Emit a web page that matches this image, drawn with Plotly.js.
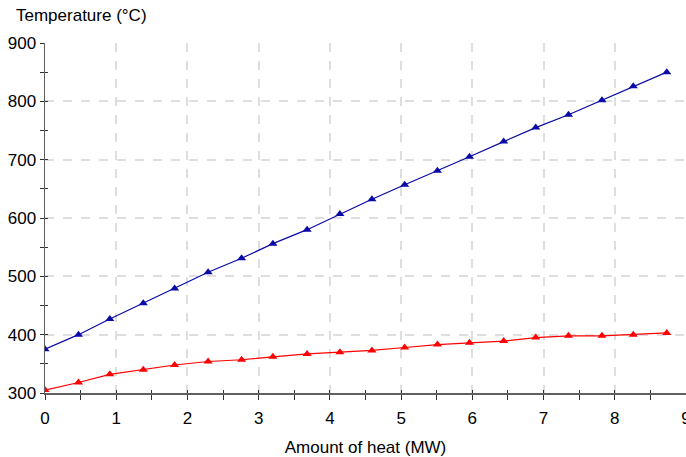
<!DOCTYPE html>
<html>
<head>
<meta charset="utf-8">
<script src="https://cdn.plot.ly/plotly-3.0.1.min.js"></script>
<style>html,body{margin:0;padding:0;background:#fff;}#chart{width:686px;height:457px;}</style>
</head>
<body>
<div id="chart"></div>
<script>
// Amount of heat (MW)
const heatMW = [0, 0.47, 0.91, 1.38, 1.82, 2.29, 2.76, 3.20, 3.68, 4.14, 4.59, 5.05, 5.51, 5.96, 6.44, 6.89, 7.35, 7.82, 8.26, 8.73];
// Temperature (°C) — upper (blue) series
const tempBlue = [375, 400, 427, 454, 479, 507, 531, 556, 580, 607, 632, 657, 681, 705, 731, 755, 777, 802, 826, 850];
// Temperature (°C) — lower (red) series
const tempRed = [305, 318, 332, 340, 348, 354, 357, 362, 367, 370, 373, 378, 383, 386, 389, 395, 398, 398, 400, 403];

const xTickVals = [0, 1, 2, 3, 4, 5, 6, 7, 8, 9];
const yTickVals = [300, 400, 500, 600, 700, 800, 900];

const FONT = 'Arial, "Liberation Sans", sans-serif';
const FS = 17;

const traces = [
  {x: heatMW, y: tempBlue, type: 'scatter', mode: 'lines+markers',
   line: {color: '#0a0aa6', width: 1.2},
   marker: {symbol: 'triangle-up', size: 8, color: '#0a0aa6'}},
  {x: heatMW, y: tempRed, type: 'scatter', mode: 'lines+markers',
   line: {color: '#ff0000', width: 1.2},
   marker: {symbol: 'triangle-up', size: 8, color: '#ff0000'}},
  // invisible trace on overlay axes so inside tick halves render
  {x: [0], y: [300], xaxis: 'x2', yaxis: 'y2', mode: 'markers', marker: {opacity: 0}, hoverinfo: 'skip'}
];

const axBase = {
  showline: true, linecolor: '#606060', linewidth: 1.5,
  tickcolor: '#333', tickwidth: 1, zeroline: false,
  ticklabeloverflow: 'allow',
  tickfont: {family: FONT, size: FS, color: '#000'}
};

const layout = {
  width: 686, height: 457,
  margin: {l: 45, r: 0, t: 43, b: 64},
  paper_bgcolor: '#fff', plot_bgcolor: '#fff',
  showlegend: false,
  font: {family: FONT, size: FS, color: '#000'},
  xaxis: Object.assign({}, axBase, {
    range: [0, 9], tickvals: xTickVals, ticks: 'outside', ticklen: 5,
    ticklabelstandoff: 4,
    minor: {dtick: 0.5, ticks: 'outside', ticklen: 5, tickcolor: '#333', showgrid: false},
    showgrid: true, gridcolor: '#dedede', gridwidth: 2, griddash: 'dash',
    title: {text: 'Amount of heat (MW)', font: {family: FONT, size: FS}, standoff: 14},
    fixedrange: true
  }),
  yaxis: Object.assign({}, axBase, {
    range: [300, 900], tickvals: yTickVals, ticks: 'outside', ticklen: 4,
    minor: {dtick: 50, ticks: 'outside', ticklen: 4, tickcolor: '#333', showgrid: false},
    showgrid: true, gridcolor: '#dedede', gridwidth: 2, griddash: 'dash',
    fixedrange: true
  }),
  xaxis2: {overlaying: 'x', range: [0, 9], tickvals: xTickVals, ticks: 'inside', ticklen: 3,
    tickcolor: '#333', showticklabels: false, showgrid: false, zeroline: false, showline: false,
    minor: {dtick: 0.5, ticks: 'inside', ticklen: 3, tickcolor: '#333', showgrid: false}},
  yaxis2: {overlaying: 'y', range: [300, 900], tickvals: yTickVals, ticks: 'inside', ticklen: 3,
    tickcolor: '#333', showticklabels: false, showgrid: false, zeroline: false, showline: false,
    minor: {dtick: 50, ticks: 'inside', ticklen: 3, tickcolor: '#333', showgrid: false}},
  annotations: [{
    text: 'Temperature (°C)', xref: 'paper', yref: 'paper', x: 0, y: 1,
    xshift: -31, yshift: 28, xanchor: 'left', yanchor: 'middle', showarrow: false,
    font: {family: FONT, size: FS, color: '#000'}
  }]
};

Plotly.newPlot('chart', traces, layout, {staticPlot: true, displayModeBar: false});
</script>
</body>
</html>
